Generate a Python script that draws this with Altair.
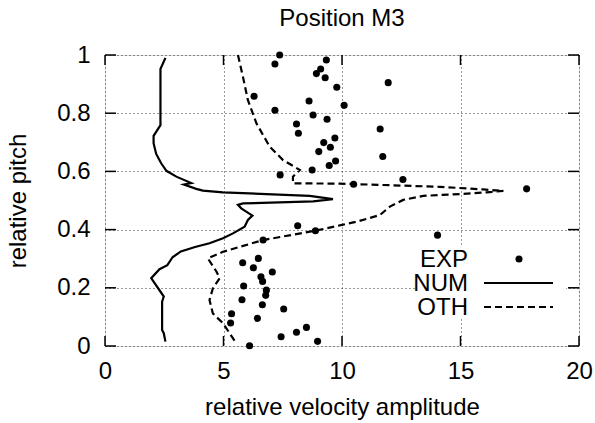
import altair as alt
import pandas as pd

# ---------------- data ----------------
exp_x = [7.37, 7.17, 9.34, 9.10, 8.92, 9.29, 9.78, 6.29, 8.61, 10.09, 7.17, 8.78, 9.37, 8.08,
         8.16, 9.70, 9.23, 9.51, 9.02, 9.73, 9.46, 8.74, 7.39, 11.95, 11.61, 11.72, 12.57,
         10.49, 17.79, 8.13, 8.88, 6.67, 6.47, 5.81, 6.26, 7.06, 6.58, 6.65, 5.85, 6.81, 6.78,
         5.78, 6.64, 7.54, 5.34, 6.43, 5.30, 8.50, 8.08, 7.43, 8.97, 6.10, 14.03]
exp_y = [1.000, 0.969, 0.983, 0.952, 0.936, 0.922, 0.889, 0.858, 0.842, 0.827, 0.810, 0.794,
         0.779, 0.763, 0.731, 0.715, 0.699, 0.683, 0.668, 0.636, 0.620, 0.605, 0.588, 0.905,
         0.746, 0.651, 0.572, 0.556, 0.540, 0.413, 0.396, 0.364, 0.301, 0.286, 0.269, 0.254,
         0.238, 0.222, 0.206, 0.192, 0.174, 0.159, 0.142, 0.127, 0.111, 0.095, 0.079, 0.064,
         0.047, 0.032, 0.016, 0.001, 0.381]

num_x = [2.55, 2.34, 2.34, 2.05, 2.05, 2.16, 2.37, 2.59, 3.01, 3.64, 3.33, 3.85, 4.13, 4.98,
         8.64, 9.62, 8.78, 5.82, 5.61, 5.75, 6.22, 6.03, 5.89, 5.40, 4.98, 4.41, 3.80, 3.20,
         2.85, 2.63, 2.30, 1.95, 2.48, 2.41, 2.41, 2.48, 2.55]
num_y = [0.990, 0.952, 0.759, 0.722, 0.697, 0.660, 0.628, 0.602, 0.582, 0.560, 0.555, 0.540,
         0.534, 0.528, 0.516, 0.505, 0.497, 0.490, 0.485, 0.473, 0.448, 0.433, 0.410, 0.387,
         0.370, 0.353, 0.340, 0.325, 0.305, 0.278, 0.264, 0.233, 0.170, 0.152, 0.055, 0.044,
         0.015]

oth_x = [5.61, 5.82, 6.03, 6.39, 6.95, 7.51, 8.22, 7.93, 7.93, 9.91, 14.13, 15.96, 16.81,
         16.10, 14.98, 13.43, 12.58, 12.02, 11.60, 10.61, 10.00, 8.92, 6.67, 4.98, 4.34,
         4.70, 4.84, 4.55, 4.41, 4.55, 4.98, 5.54]
oth_y = [1.000, 0.925, 0.845, 0.765, 0.685, 0.639, 0.605, 0.582, 0.559, 0.558, 0.547, 0.538,
         0.533, 0.528, 0.522, 0.516, 0.502, 0.479, 0.450, 0.427, 0.416, 0.397, 0.364, 0.324,
         0.301, 0.256, 0.233, 0.198, 0.158, 0.112, 0.078, 0.009]

x_ticks = [0, 5, 10, 15, 20]
y_ticks = [0, 0.2, 0.4, 0.6, 0.8, 1]
legend_names = ["EXP", "NUM", "OTH"]

FONT = "Liberation Sans"
FS = 24
W, H = 474, 291

exp_df = pd.DataFrame({"x": exp_x, "y": exp_y})
num_df = pd.DataFrame({"x": num_x, "y": num_y, "i": range(len(num_x))})
oth_df = pd.DataFrame({"x": oth_x, "y": oth_y, "i": range(len(oth_x))})
xt_df = pd.DataFrame({"x": x_ticks})
yt_df = pd.DataFrame({"y": y_ticks})
one = pd.DataFrame({"k": [0]})

xscale = alt.Scale(domain=[0, 20], nice=False, zero=False)
yscale = alt.Scale(domain=[0, 1], nice=False, zero=False)

xaxis = alt.Axis(values=x_ticks, title="relative velocity amplitude", grid=True,
                 gridDash=[1, 3], gridColor="#333333", gridWidth=1, ticks=False, tickSize=0,
                 domain=False, labelFont=FONT, labelFontSize=FS, labelColor="black",
                 labelBaseline="alphabetic", labelPadding=32, labelFlush=False,
                 titleFont=FONT, titleFontSize=FS, titleFontWeight="normal", titleColor="black",
                 titleBaseline="alphabetic", titleX=W / 2, titleY=68, titleAlign="center")
yaxis = alt.Axis(values=y_ticks, format="~g", title="relative pitch", grid=True,
                 gridDash=[1, 3], gridColor="#333333", gridWidth=1, ticks=False, tickSize=0,
                 domain=False, labelFont=FONT, labelFontSize=FS, labelColor="black",
                 labelPadding=15, labelFlush=False,
                 titleFont=FONT, titleFontSize=FS, titleFontWeight="normal", titleColor="black",
                 titleBaseline="alphabetic", titleAngle=-90, titleX=-80, titleY=H / 2,
                 titleAlign="center")

X = alt.X("x:Q", scale=xscale, axis=xaxis)
Y = alt.Y("y:Q", scale=yscale, axis=yaxis)

points = alt.Chart(exp_df).mark_circle(size=50, color="black", opacity=1).encode(x=X, y=Y)
num_line = alt.Chart(num_df).mark_line(color="black", strokeWidth=2.2).encode(
    x=alt.X("x:Q", scale=xscale), y=alt.Y("y:Q", scale=yscale), order="i:Q")
oth_line = alt.Chart(oth_df).mark_line(color="black", strokeWidth=2.2, strokeDash=[7, 4]).encode(
    x=alt.X("x:Q", scale=xscale), y=alt.Y("y:Q", scale=yscale), order="i:Q")

# key box (opaque)
keybox = alt.Chart(one).mark_rect(color="white").encode(
    x=alt.value(310), x2=alt.value(461), y=alt.value(192), y2=alt.value(263))

# inward ticks (mirrored)
tb = alt.Chart(xt_df).mark_rule(color="black", strokeWidth=1.5).encode(
    x=alt.X("x:Q", scale=xscale), y=alt.value(H), y2=alt.value(H - 10))
tt = alt.Chart(xt_df).mark_rule(color="black", strokeWidth=1.5).encode(
    x=alt.X("x:Q", scale=xscale), y=alt.value(0), y2=alt.value(10))
tl = alt.Chart(yt_df).mark_rule(color="black", strokeWidth=1.5).encode(
    y=alt.Y("y:Q", scale=yscale), x=alt.value(0), x2=alt.value(11))
tr = alt.Chart(yt_df).mark_rule(color="black", strokeWidth=1.5).encode(
    y=alt.Y("y:Q", scale=yscale), x=alt.value(W), x2=alt.value(W - 11))

# legend (gnuplot-style: label left, sample right)
leg_rows = [204, 228, 252]
leg_text = []
for name, yy in zip(legend_names, leg_rows):
    leg_text.append(alt.Chart(pd.DataFrame({"t": [name]})).mark_text(
        font=FONT, fontSize=FS, align="right", baseline="middle", color="black").encode(
        text="t:N", x=alt.value(363), y=alt.value(yy + 1)))
leg_dot = alt.Chart(one).mark_circle(size=50, color="black", opacity=1).encode(
    x=alt.value(414), y=alt.value(leg_rows[0]))
leg_num = alt.Chart(one).mark_rule(color="black", strokeWidth=2.2).encode(
    x=alt.value(379), x2=alt.value(448), y=alt.value(leg_rows[1]))
leg_oth = alt.Chart(one).mark_rule(color="black", strokeWidth=2.2, strokeDash=[7, 4]).encode(
    x=alt.value(379), x2=alt.value(448), y=alt.value(leg_rows[2]))

chart = alt.layer(points, keybox, num_line, oth_line, tb, tt, tl, tr,
                  *leg_text, leg_dot, leg_num, leg_oth).properties(
    width=W, height=H,
    title=alt.Title("Position M3", font=FONT, fontSize=FS, fontWeight="normal",
                    color="black", anchor="middle", offset=12),
    autosize=alt.AutoSizeParams(type="none"),
    padding={"left": 105, "top": 55, "right": 16, "bottom": 77},
).configure_view(stroke="black", strokeWidth=2).configure(background="white")

chart.save("out.html", embed_options={"renderer": "svg", "actions": False})
